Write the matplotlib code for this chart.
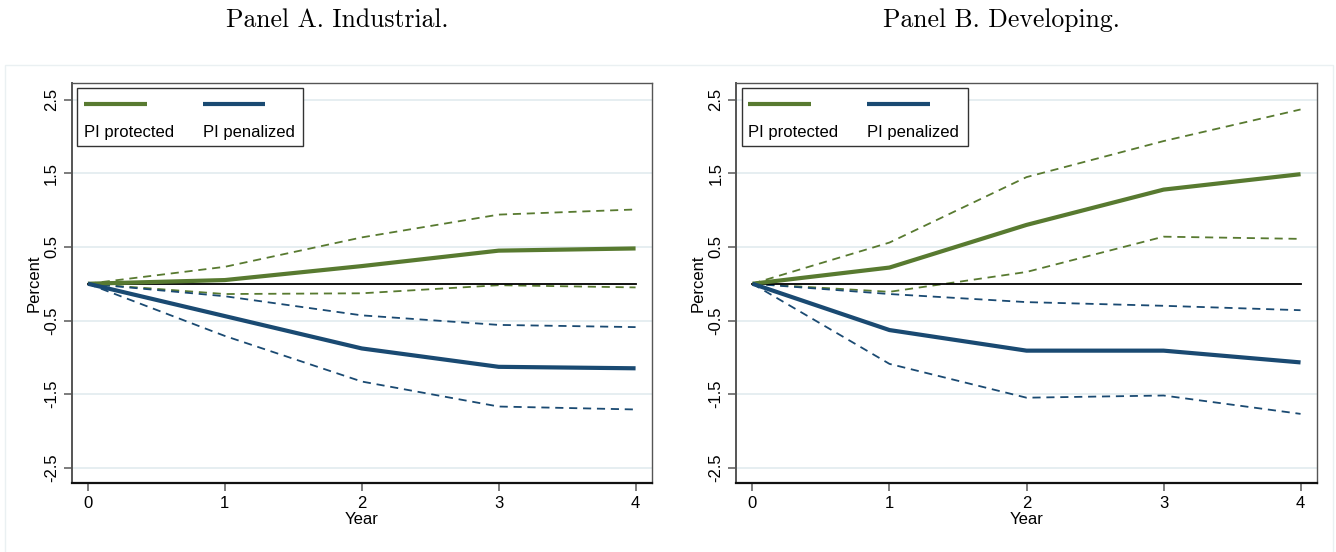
import numpy as np
import matplotlib
matplotlib.use('Agg')
import matplotlib.pyplot as plt
from matplotlib.patches import Rectangle
from matplotlib.lines import Line2D

# impulse responses, percent, by year after the shock
years = [0, 1, 2, 3, 4]
y_ticks = [2.5, 1.5, 0.5, -0.5, -1.5, -2.5]
y_tick_labels = ['2.5', '1.5', '0.5', '-0.5', '-1.5', '-2.5']

ind_protected = [0.0, 0.05, 0.24, 0.45, 0.48]
ind_protected_hi = [0.0, 0.23, 0.63, 0.94, 1.01]
ind_protected_lo = [0.0, -0.14, -0.13, -0.02, -0.05]
ind_penalized = [0.0, -0.44, -0.88, -1.13, -1.15]
ind_penalized_hi = [0.0, -0.17, -0.43, -0.56, -0.59]
ind_penalized_lo = [0.0, -0.71, -1.33, -1.67, -1.71]

dev_protected = [0.0, 0.22, 0.80, 1.28, 1.49]
dev_protected_hi = [0.0, 0.56, 1.45, 1.94, 2.37]
dev_protected_lo = [0.0, -0.11, 0.16, 0.64, 0.61]
dev_penalized = [0.0, -0.63, -0.91, -0.91, -1.07]
dev_penalized_hi = [0.0, -0.14, -0.25, -0.30, -0.36]
dev_penalized_lo = [0.0, -1.09, -1.55, -1.52, -1.77]

GREEN = '#587a30'
BLUE = '#1a4a72'
GRID = '#e6eef1'
SANS = ['Liberation Sans', 'DejaVu Sans']
FS = 12


def draw_panel(ax, prot, prot_hi, prot_lo, pen, pen_hi, pen_lo):
    for v in y_ticks:
        ax.axhline(v, color=GRID, lw=1.4, zorder=0)

    dash = (0, (4.5, 3.2))
    ax.plot(years, prot_hi, color=GREEN, lw=1.3, ls=dash, zorder=2)
    ax.plot(years, prot_lo, color=GREEN, lw=1.3, ls=dash, zorder=2)
    ax.plot(years, pen_hi, color=BLUE, lw=1.3, ls=dash, zorder=2)
    ax.plot(years, pen_lo, color=BLUE, lw=1.3, ls=dash, zorder=2)
    ax.plot(years, [0] * len(years), color='black', lw=1.3, zorder=3)
    ax.plot(years, prot, color=GREEN, lw=3.0, zorder=4, solid_capstyle='butt')
    ax.plot(years, pen, color=BLUE, lw=3.0, zorder=4, solid_capstyle='butt')

    ax.set_xlim(-0.12, 4.12)
    ax.set_ylim(-2.71, 2.73)
    ax.set_xticks(years)
    ax.set_xticklabels([str(y) for y in years], fontfamily=SANS, fontsize=FS)
    ax.set_yticks(y_ticks)
    ax.set_yticklabels(y_tick_labels, rotation=90, va='center',
                       fontfamily=SANS, fontsize=FS)
    ax.tick_params(axis='both', direction='out', length=6, width=1.2,
                   color='#666666', pad=3)
    ax.set_xlabel('Year', fontfamily=SANS, fontsize=FS, labelpad=1)
    ax.set_ylabel('Percent', fontfamily=SANS, fontsize=FS, labelpad=2)

    ax.spines['bottom'].set_color('#111111')
    ax.spines['bottom'].set_linewidth(1.6)
    ax.spines['left'].set_color('#555555')
    ax.spines['left'].set_linewidth(1.4)
    for side in ['top', 'right']:
        ax.spines[side].set_color('#555555')
        ax.spines[side].set_linewidth(1.0)

    # legend: keys on top, labels underneath
    box = Rectangle((0.0095, 0.8425), 0.39, 0.145, transform=ax.transAxes,
                    facecolor='white', edgecolor='#333333', lw=1.0, zorder=6)
    ax.add_patch(box)
    for x0, color, label in [(0.0215, GREEN, 'PI protected'),
                             (0.226, BLUE, 'PI penalized')]:
        ax.add_line(Line2D([x0, x0 + 0.108], [0.9475, 0.9475], color=color,
                           lw=3.0, transform=ax.transAxes, zorder=7,
                           solid_capstyle='butt'))
        ax.text(x0, 0.877, label, transform=ax.transAxes, ha='left',
                va='center', fontfamily=SANS, fontsize=FS, zorder=7)


fig = plt.figure(figsize=(13.36, 5.52), dpi=100)
fig.patch.set_facecolor('white')

# faint frame around the graph region
fig.add_artist(Rectangle((5 / 1336, -0.01), 1328 / 1336, 487 / 552 + 0.01,
                         transform=fig.transFigure, facecolor='none',
                         edgecolor='#eaf0f2', lw=1.0))

ax1 = fig.add_axes([71.5 / 1336, 69 / 552, 580.5 / 1336, 400 / 552])
ax2 = fig.add_axes([736 / 1336, 69 / 552, 581 / 1336, 400 / 552])

draw_panel(ax1, ind_protected, ind_protected_hi, ind_protected_lo,
           ind_penalized, ind_penalized_hi, ind_penalized_lo)
draw_panel(ax2, dev_protected, dev_protected_hi, dev_protected_lo,
           dev_penalized, dev_penalized_hi, dev_penalized_lo)

fig.text(337 / 1336, 1 - 27 / 552, 'Panel A. Industrial.', fontfamily='cmr10',
         fontsize=18.5, ha='center', va='baseline')
fig.text(1001 / 1336, 1 - 27 / 552, 'Panel B. Developing.', fontfamily='cmr10',
         fontsize=18.5, ha='center', va='baseline')

fig.savefig('out.png', dpi=100, facecolor='white')
